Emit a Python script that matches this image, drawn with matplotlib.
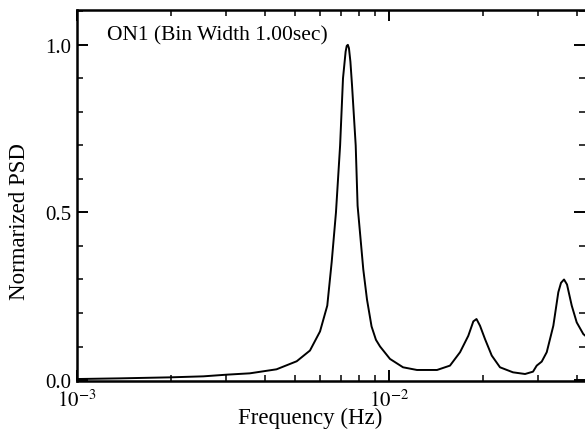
import matplotlib
matplotlib.use("Agg")
import matplotlib.pyplot as plt
from matplotlib.ticker import LogLocator, MultipleLocator, FixedLocator, FixedFormatter

plt.rcParams["font.family"] = ["Liberation Serif", "DejaVu Serif"]
plt.rcParams["mathtext.fontset"] = "stix"

# values
freq_hz = [
    1.000e-3, 1.374e-3, 1.986e-3, 2.54e-3, 3.02e-3, 3.58e-3, 4.36e-3, 5.06e-3,
    5.58e-3, 6.01e-3, 6.34e-3, 6.55e-3, 6.76e-3, 6.97e-3, 7.12e-3, 7.26e-3,
    7.32e-3, 7.38e-3, 7.44e-3, 7.52e-3, 7.61e-3, 7.82e-3, 7.93e-3, 8.27e-3,
    8.50e-3, 8.79e-3, 9.08e-3, 9.36e-3, 1.007e-2, 1.109e-2, 1.229e-2, 1.425e-2,
    1.568e-2, 1.689e-2, 1.795e-2, 1.863e-2, 1.907e-2, 1.957e-2, 2.031e-2, 2.134e-2,
    2.268e-2, 2.496e-2, 2.729e-2, 2.894e-2, 2.974e-2, 3.086e-2, 3.202e-2, 3.362e-2,
    3.488e-2, 3.558e-2, 3.638e-2, 3.719e-2, 3.851e-2, 3.995e-2, 4.195e-2, 4.31e-2,
]
psd_norm = [
    0.003, 0.005, 0.008, 0.011, 0.016, 0.020, 0.032, 0.056,
    0.088, 0.145, 0.222, 0.352, 0.50, 0.70, 0.90, 0.98,
    0.997, 1.0, 0.99, 0.95, 0.88, 0.70, 0.52, 0.33,
    0.24, 0.16, 0.12, 0.10, 0.063, 0.038, 0.030, 0.030,
    0.043, 0.083, 0.132, 0.175, 0.182, 0.162, 0.122, 0.073,
    0.038, 0.023, 0.018, 0.025, 0.043, 0.055, 0.083, 0.162,
    0.262, 0.29, 0.30, 0.285, 0.222, 0.172, 0.137, 0.128,
]

y_ticks = [0.0, 0.5, 1.0]
y_tick_labels = ["0.0", "0.5", "1.0"]
x_ticks = [1e-3, 1e-2]
x_tick_labels = [r"$10^{-3}$", r"$10^{-2}$"]

fig = plt.figure(figsize=(5.85, 4.39), dpi=100)
ax = fig.add_axes([77 / 585, 57.3 / 439, 1 - 77 / 585, (381.7 - 11) / 439])

ax.plot(freq_hz, psd_norm, color="black", linewidth=1.4)

ax.set_xscale("log")
ax.set_xlim(1e-3, 4.247e-2)
ax.set_ylim(-0.002, 1.104)

ax.xaxis.set_major_locator(FixedLocator(x_ticks))
ax.xaxis.set_major_formatter(FixedFormatter(x_tick_labels))
ax.xaxis.set_minor_locator(LogLocator(base=10, subs=range(2, 10)))
ax.xaxis.set_minor_formatter(FixedFormatter([]))
ax.yaxis.set_major_locator(FixedLocator(y_ticks))
ax.yaxis.set_major_formatter(FixedFormatter(y_tick_labels))
ax.yaxis.set_minor_locator(MultipleLocator(0.1))

ax.tick_params(which="both", direction="in", top=True, right=True, labelsize=15, color="black")
ax.tick_params(which="major", length=8, width=1.4, pad=4)
ax.tick_params(which="minor", length=4, width=1.1)
ax.tick_params(axis="x", which="major", pad=6)

for side in ("left", "bottom", "top"):
    ax.spines[side].set_linewidth(1.8)
ax.spines["right"].set_visible(False)

ax.set_xlabel("Frequency (Hz)", fontsize=16.5)
ax.xaxis.set_label_coords((310 - 77) / (585 - 77), -(418 - 381.7) / (381.7 - 11))
ax.xaxis.label.set_va("center")
ax.set_ylabel("Normarized PSD", fontsize=16.5)
ax.yaxis.set_label_coords(-(77 - 20) / (585 - 77), (381.7 - 222) / (381.7 - 11))
ax.yaxis.label.set_va("center")

ax.text((107 - 77) / (585 - 77), (381.7 - 36) / (381.7 - 11), "ON1 (Bin Width 1.00sec)",
        fontsize=15.5, transform=ax.transAxes, va="center")

fig.savefig("out.png", dpi=100, facecolor="white")
